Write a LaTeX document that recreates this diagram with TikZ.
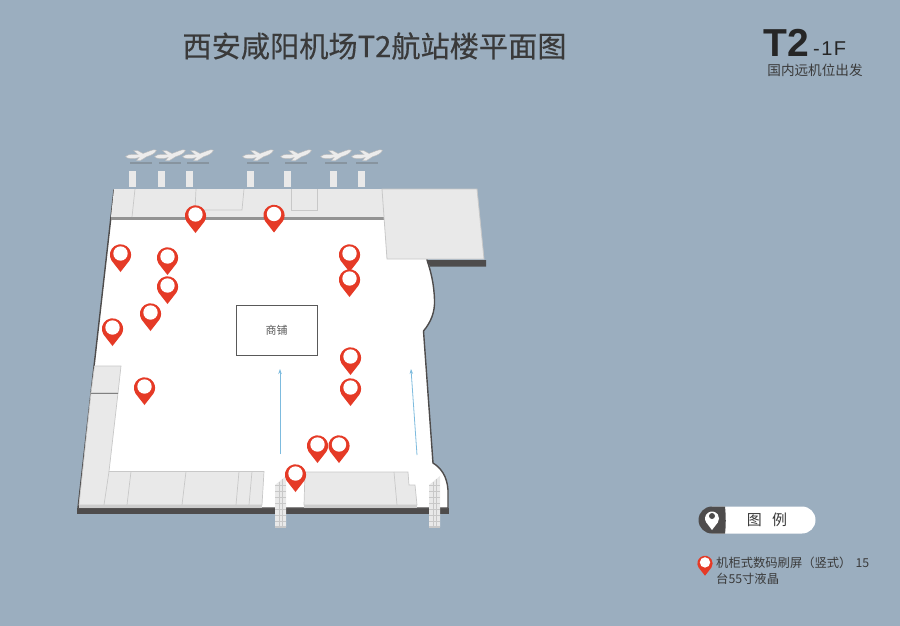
\documentclass[tikz,border=0pt]{standalone}
\usepackage{fontspec}
\setmainfont{Noto Sans CJK SC}
\newfontfamily\titlefont[FakeBold=0.35]{Noto Sans CJK SC}
\newfontfamily\latinfont{Liberation Sans}
\usetikzlibrary{arrows.meta}
\definecolor{bgblue}{HTML}{9BAEBF}
\definecolor{roomgray}{HTML}{E9E9E9}
\definecolor{linegray}{HTML}{C8C8C8}
\definecolor{walldark}{HTML}{4E4C4C}
\definecolor{pinred}{HTML}{E53A26}
\definecolor{textdark}{HTML}{3A3A3A}
\definecolor{flowblue}{HTML}{7DBBDE}
\definecolor{planeshade}{HTML}{87949F}
\tikzset{
    room/.style={fill=roomgray, draw=linegray, line width=0.7pt},
    partition/.style={draw=linegray, line width=0.7pt},
    flowline/.style={draw=flowblue, line width=0.8pt, -{Stealth[length=5pt,width=3.5pt]}},
    pin/.pic={
        \fill[pinred] (0,17) -- (-9,5.5) arc[start angle=148, end angle=392, radius=10.6] -- cycle;
        \fill[white] (0,-1.5) circle [radius=7.2];
    },
    plane/.pic={
        \fill[white!85!gray, draw=gray!55, line width=0.4pt] (-15.5,1.5) .. controls (-12,-1.5) and (-6,-0.5) .. (-3,-0.5)
            -- (-7.5,-4.5) -- (-3.5,-4.5) -- (2,-1.5) -- (10,-4.5) .. controls (13,-5.5) and (15.5,-5.5) .. (15.5,-4.5)
            .. controls (14,-1.5) and (10,0.5) .. (6,1.5) -- (-0.5,5.5) -- (-4.5,5.5) -- (-2,2.5) .. controls (-7,4.5) and (-14,4) .. (-15.5,1.5) -- cycle;
        \fill[planeshade] (-11,7.4) rectangle (11,8.8);
    },
    stand/.pic={
        \fill[roomgray] (-3.5,0) rectangle (3.5,16);
    },
    escalator/.pic={
        \fill[roomgray] (0,0) -- (11,-9) -- (11,42) -- (0,42) -- cycle;
        \foreach \ty in {0,6,...,36} \draw[linegray, line width=0.35pt] (0,\ty) -- (11,\ty);
        \draw[linegray, line width=0.35pt] (3.7,-3) -- (3.7,42) (7.4,-6) -- (7.4,42);
        \fill[linegray] (0,41) rectangle (11,43);
    }
}
\begin{document}
\begin{tikzpicture}[x=1pt, y=-1pt]
    \fill[bgblue] (0,0) rectangle (900,626);
    \useasboundingbox (0,0) rectangle (900,626);

    % terminal outline
    \fill[walldark] (77,508) -- (449,508) -- (449,513.5) -- (77,513.5) -- cycle;
    \fill[white, draw=walldark, line width=1.4pt] (114,190) -- (78,508) -- (448,508) -- (448,490)
        .. controls (447,476) and (441,468) .. (433,463) -- (423.5,331)
        .. controls (431,322) and (435,312) .. (434.5,300) .. controls (434,284) and (431,272) .. (427,260) -- (427,190) -- cycle;
    \fill[walldark] (427,260) -- (486,260) -- (486,266.5) -- (430,266.5) -- cycle;

    % upper band
    \fill[roomgray] (114,189) -- (383,189) -- (386,217) -- (111,217) -- cycle;
    \fill[gray!85] (111,217) rectangle (386,219.5);
    \draw[partition] (135,189) -- (132,217);
    \draw[partition] (196,189) -- (195,210) -- (242,210) -- (244,189);
    \draw[partition] (291,189) -- (291,210) -- (317,210) -- (317,189);
    \fill[roomgray, draw=linegray, line width=0.8pt] (382,189) -- (477,189) -- (484,259) -- (387,259) -- cycle;

    % left rooms
    \fill[room] (94.5,366) -- (121,366) -- (118,393) -- (91,393) -- cycle;
    \fill[room] (91,393) -- (118,393) -- (109,471.5) -- (264,471.5) -- (262,505) -- (79,505) -- cycle;
    \draw[gray, line width=0.8pt] (91,393) -- (118,393);
    \draw[partition] (109,471.5) -- (104,505) (131,471.5) -- (127,505) (186,471.5) -- (182,505);
    \draw[partition] (239,471.5) -- (236,505) (252,471.5) -- (249,505);
    \fill[gray!40] (79,505) rectangle (262,508);

    % right room
    \fill[room] (305,472) -- (408,472) -- (409,485) -- (415,485) -- (417,505) -- (304,505) -- cycle;
    \draw[partition] (394,472) -- (397,505);
    \fill[gray!40] (304,505) rectangle (417,508);

    % gates
    \foreach \sx in {132,161,189,250,287,333,361}
        \pic at (\sx,171) {stand};
    \foreach \px in {141,170,198,258,296,336,367}
        \pic at (\px,155) {plane};

    % escalators
    \pic at (275,485) {escalator};
    \pic at (429,485) {escalator};

    \node[draw=gray!70!black, line width=0.7pt, minimum width=81pt, minimum height=50pt, inner sep=0pt, text=gray!70!black, font=\fontsize{11}{13}\selectfont] (shop) at (276.5,330) {商铺};

    \coordinate (flowastart) at (280,454);
    \coordinate (flowaend) at (280,369);
    \coordinate (flowbstart) at (417,455);
    \coordinate (flowbend) at (411,369);
    \draw[flowline] (flowastart) -- (flowaend);
    \draw[flowline] (flowbstart) -- (flowbend);

    \foreach \mx/\my in {195.5/216,274/215.5,120.5/255,167.5/258,349.5/255,349.5/280,167.5/287,150.5/314,
                         112.5/329,350.5/358,350.5/389,144.5/388,317.5/446,339/446,295.5/475}
        \pic at (\mx,\my) {pin};

    % title
    \node[text=textdark, font=\titlefont\fontsize{29.2}{32}\selectfont, inner sep=0pt] (title) at (374.5,46) {西安咸阳机场T2航站楼平面图};
    \node[text=black!85, font=\latinfont\bfseries\fontsize{39}{40}\selectfont, anchor=base west, inner sep=0pt] (tname) at (763,57) {T2};
    \node[text=black!85, font=\latinfont\fontsize{20}{22}\selectfont, anchor=base west, inner sep=0pt] (floor) at (813,56) {-\hspace{1.5pt}1\hspace{1.5pt}F};
    \node[text=textdark, font=\fontsize{13.6}{15}\selectfont, inner sep=0pt] (subtitle) at (815,70) {国内远机位出发};

    % legend
    \fill[white] (712,506.5) -- (802,506.5) arc[start angle=-90, end angle=90, radius=13.5] -- (712,533.5) -- cycle;
    \fill[walldark] (712,506.5) -- (725,506.5) .. controls (726,516) and (726,526) .. (725,533.5) -- (712,533.5)
        arc[start angle=90, end angle=270, radius=13.5] -- cycle;
    \fill[white] (712,530) -- (706.3,522.5) arc[start angle=145, end angle=395, radius=7] -- cycle;
    \fill[walldark] (712,516) circle [radius=3];
    \node[text=textdark, font=\fontsize{15}{17}\selectfont, inner sep=0pt] (legendtitle) at (767,520) {图\hspace{0.7em}例};
    \pic[scale=0.72] at (705,563.5) {pin};
    \node[text=textdark, font=\fontsize{12.3}{16}\selectfont, anchor=north west, align=left, inner sep=0pt, text width=156pt] (legendtext) at (716,557) {机柜式数码刷屏（竖式） 15\\台55寸液晶};
\end{tikzpicture}
\end{document}
